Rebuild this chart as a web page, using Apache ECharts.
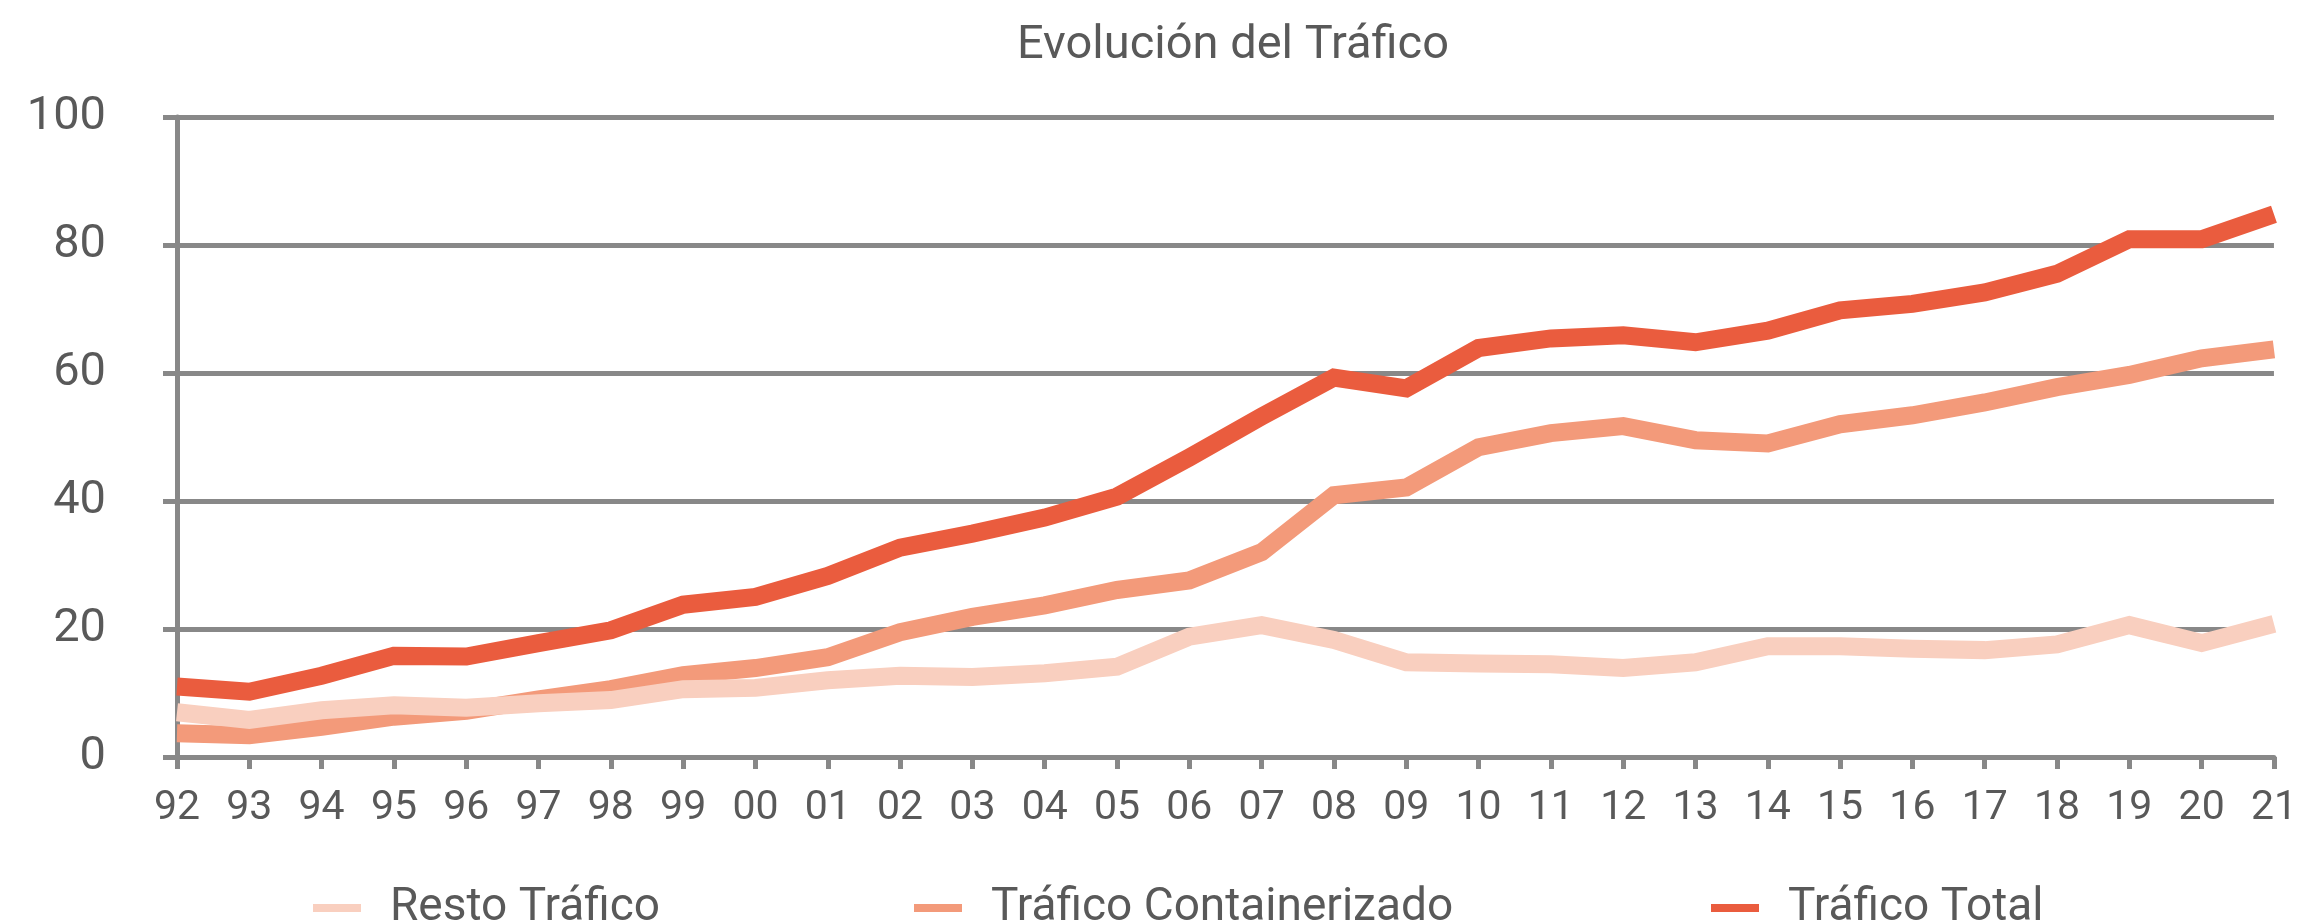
<!DOCTYPE html>
<html>
<head>
<meta charset="utf-8">
<script src="https://cdn.jsdelivr.net/npm/echarts@6/dist/echarts.min.js"></script>
<style>html,body{margin:0;padding:0;background:#fff}#c{width:2300px;height:921px}</style>
</head>
<body>
<div id="c"></div>
<script>
const years = ['92','93','94','95','96','97','98','99','00','01','02','03','04','05','06','07','08','09','10','11','12','13','14','15','16','17','18','19','20','21'];
const resto = [7.0,5.8,7.3,8.1,7.7,8.4,8.9,10.6,10.8,12.0,12.7,12.5,13.1,14.1,18.8,20.6,18.3,14.8,14.6,14.5,13.9,14.8,17.3,17.3,16.9,16.7,17.6,20.6,17.8,20.8];
const containerizado = [3.7,3.4,4.7,6.3,7.2,9.0,10.6,12.8,13.9,15.6,19.5,21.9,23.7,26.1,27.6,32.0,40.9,42.1,48.4,50.6,51.7,49.5,49.0,52.0,53.4,55.4,57.8,59.7,62.3,63.7];
const total = [11.0,10.2,12.7,15.8,15.7,17.8,19.8,23.8,25.0,28.3,32.7,34.9,37.4,40.7,46.8,53.2,59.3,57.6,63.9,65.4,65.9,64.8,66.6,69.8,70.8,72.6,75.5,80.9,80.9,84.8];
const yTicks = {min: 0, max: 100, interval: 20};
const names = ['Resto Tráfico','Tráfico Containerizado','Tráfico Total'];
const colors = {'Resto Tráfico':'#F9CFBF','Tráfico Containerizado':'#F39A7A','Tráfico Total':'#EA5C3E'};

const gray = '#888888';
const textColor = '#595959';
const font = 'Roboto, "Noto Sans", sans-serif';

function legendAt(name, left) {
  return {
    data: [name], left: left, top: 880, orient: 'horizontal',
    icon: 'rect', itemWidth: 48, itemHeight: 8,
    textStyle: {fontFamily: font, fontSize: 46, color: textColor, padding: [0,0,0,24]}
  };
}
function lineSeries(name, data) {
  return {
    name: name, type: 'line', data: data, symbol: 'none', smooth: false,
    lineStyle: {width: 18, color: colors[name], join: 'miter', cap: 'butt'},
    itemStyle: {color: colors[name]},
    emphasis: {disabled: true}, animation: false
  };
}

const chart = echarts.init(document.getElementById('c'), null, {renderer: 'canvas'});
chart.setOption({
  animation: false,
  title: {
    text: 'Evolución del Tráfico', left: 1228, top: 18, textAlign: 'center',
    textStyle: {fontFamily: font, fontSize: 47, fontWeight: 'normal', color: textColor}
  },
  legend: [legendAt(names[0], 308), legendAt(names[1], 909), legendAt(names[2], 1706)],
  grid: {left: 177, right: 17, top: 117, bottom: 164, containLabel: false},
  xAxis: {
    type: 'category', data: years, boundaryGap: false,
    axisLine: {show: true, lineStyle: {color: gray, width: 5}},
    axisTick: {show: true, alignWithLabel: true, length: 12, lineStyle: {color: gray, width: 5}},
    axisLabel: {fontFamily: font, fontSize: 41, color: textColor, margin: 31, interval: 0},
    splitLine: {show: false}
  },
  yAxis: {
    type: 'value', min: yTicks.min, max: yTicks.max, interval: yTicks.interval,
    axisLine: {show: true, lineStyle: {color: gray, width: 5}},
    axisTick: {show: true, length: 14, lineStyle: {color: gray, width: 5}},
    axisLabel: {fontFamily: font, fontSize: 47, color: textColor, margin: 71},
    splitLine: {show: true, lineStyle: {color: gray, width: 5}}
  },
  series: [
    lineSeries(names[2], total),
    lineSeries(names[1], containerizado),
    lineSeries(names[0], resto)
  ]
});
</script>
</body>
</html>
